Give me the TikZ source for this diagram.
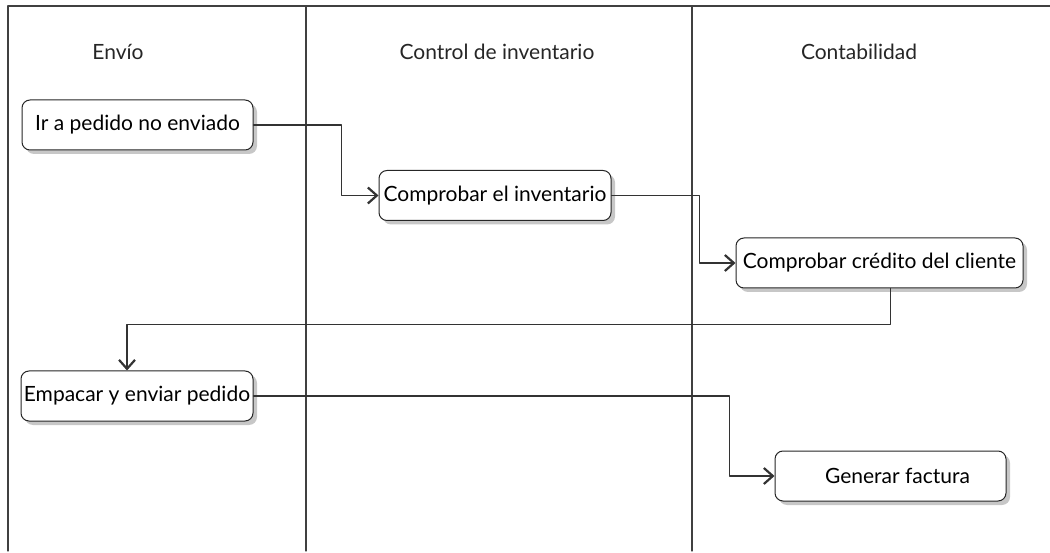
\documentclass[tikz,border=0pt]{standalone}
\usepackage{fontspec}
\setmainfont{Lato}
\usetikzlibrary{arrows.meta,shadows}

\begin{document}
\begin{tikzpicture}[
  x=1pt, y=-1pt,
  line cap=round,
  line join=round,
  font=\fontsize{21}{24}\selectfont,
  lane/.style={draw=black!75, line width=1.1pt},
  lanetitle/.style={text=black!85, inner sep=0pt},
  act/.style={draw=black!85, fill=white, rounded corners=8pt, line width=1pt,
    minimum height=50pt, inner sep=0pt, align=center,
    drop shadow={shadow xshift=4pt, shadow yshift=-4pt, fill=black!22, opacity=1}},
  flow/.style={-{Straight Barb[length=9pt,width=16pt,line width=2.2pt]}, line width=1.4pt, draw=black!80}
]

\useasboundingbox (0,0) rectangle (1050,553);

% Swimlanes.
\draw[lane] (8,551) -- (8,6) -- (1050,6);
\draw[lane] (306,6) -- (306,551);
\draw[lane] (692,6) -- (692,551);

\node[lanetitle] (envio) at (118,52) {Envío};
\node[lanetitle] (inventario) at (497,52) {Control de inventario};
\node[lanetitle] (contab) at (859,52) {Contabilidad};

% Activities.
\node[act, minimum width=231pt] (irPedido) at (137.5,125) {Ir a pedido no enviado};
\node[act, minimum width=232pt] (compInv) at (495,195.5) {Comprobar el inventario};
\node[act, minimum width=287pt] (compCred) at (879.5,263) {Comprobar crédito del cliente};
\node[act, minimum width=232pt] (empacar) at (137,396) {Empacar y enviar pedido};
\node[act, minimum width=231pt] (factura) at (890.5,476) {\hspace*{14pt}Generar factura};

% Control flow.
\draw[flow] (irPedido.east) -- ++(88,0) |- (compInv.west);
\draw[flow] (compInv.east) -- ++(88,0) |- (compCred.west);
\draw[flow] ([xshift=11pt]compCred.south) -- ++(0,36) -| ([xshift=-10pt]empacar.north);
\draw[flow] (empacar.east) -- ++(476,0) |- (factura.west);

\end{tikzpicture}
\end{document}
